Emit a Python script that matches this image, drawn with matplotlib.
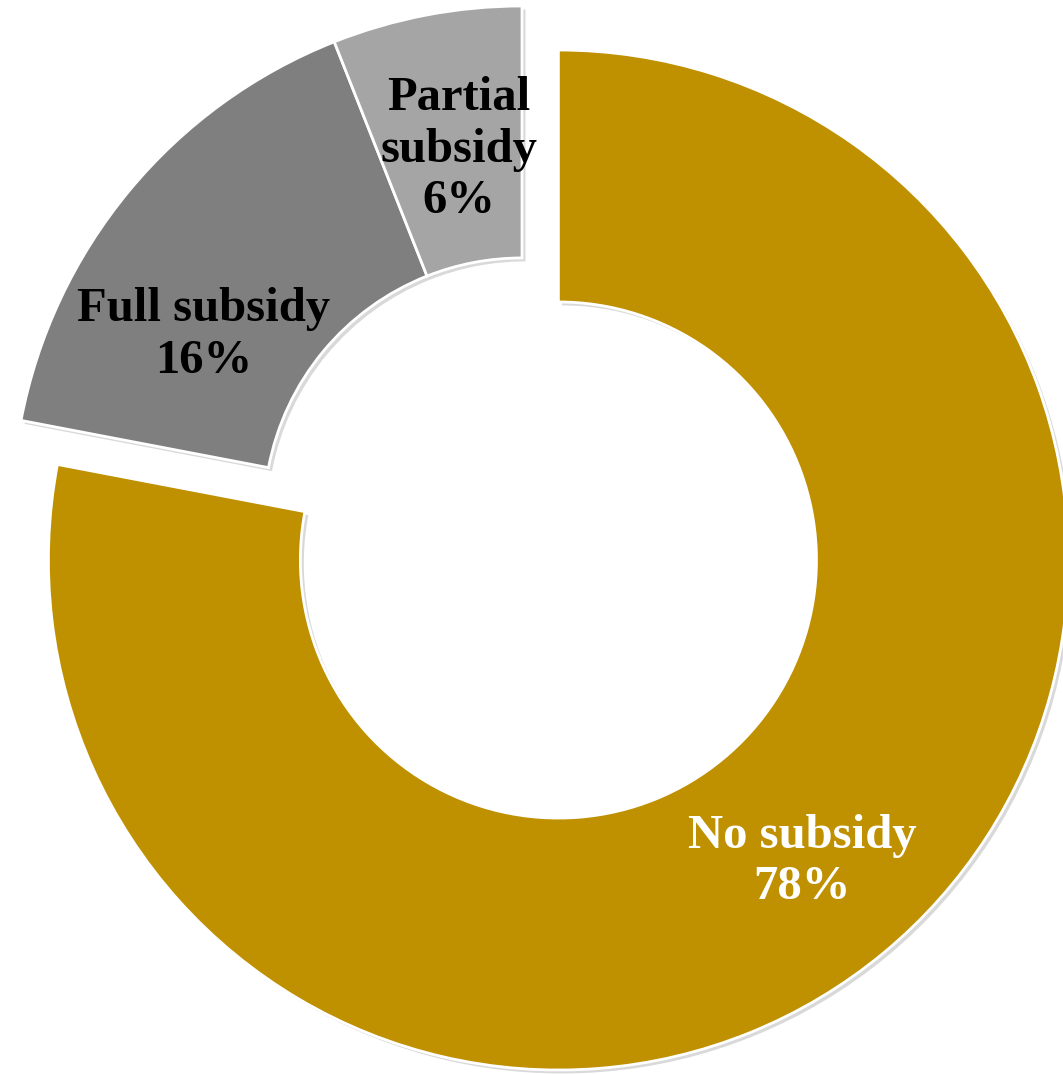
import matplotlib.pyplot as plt
import matplotlib.patheffects as pe

# subsidy shares (%), clockwise from 12 o'clock
labels = ["No subsidy", "Full subsidy", "Partial subsidy"]
shares = [78, 16, 6]
colors = ["#BF9000", "#7F7F7F", "#A5A5A5"]
explode = [0.112, 0, 0]

fig = plt.figure(figsize=(10.63, 10.74), dpi=100)
ax = fig.add_axes([0, 0, 1, 1])

wedges, _ = ax.pie(shares, colors=colors, explode=explode, startangle=90,
                   counterclock=False, radius=1,
                   wedgeprops=dict(width=0.494, edgecolor="white", linewidth=2.0))

shadow = [pe.SimplePatchShadow(offset=(2.5, -2.5), shadow_rgbFace="#000000", alpha=0.15),
          pe.Normal()]
for w in wedges:
    w.set_path_effects(shadow)

# data label placement (axes data units, radius = 1)
label_pos = [(0.549, -0.677), (-0.625, 0.355), (-0.123, 0.718)]
label_text = ["No subsidy\n78%", "Full subsidy\n16%", "Partial\nsubsidy\n6%"]
label_color = ["white", "black", "black"]
for (x, y), t, c in zip(label_pos, label_text, label_color):
    ax.text(x, y, t, ha="center", va="center", color=c, fontsize=35,
            fontweight="bold", family="Liberation Serif", linespacing=1.22)

ax.set_aspect("equal")
ax.set_xlim(-522 / 510, (1063 - 522) / 510)
ax.set_ylim(-(1074 - 516) / 510, 516 / 510)
ax.axis("off")

fig.savefig("out.png", dpi=100)
